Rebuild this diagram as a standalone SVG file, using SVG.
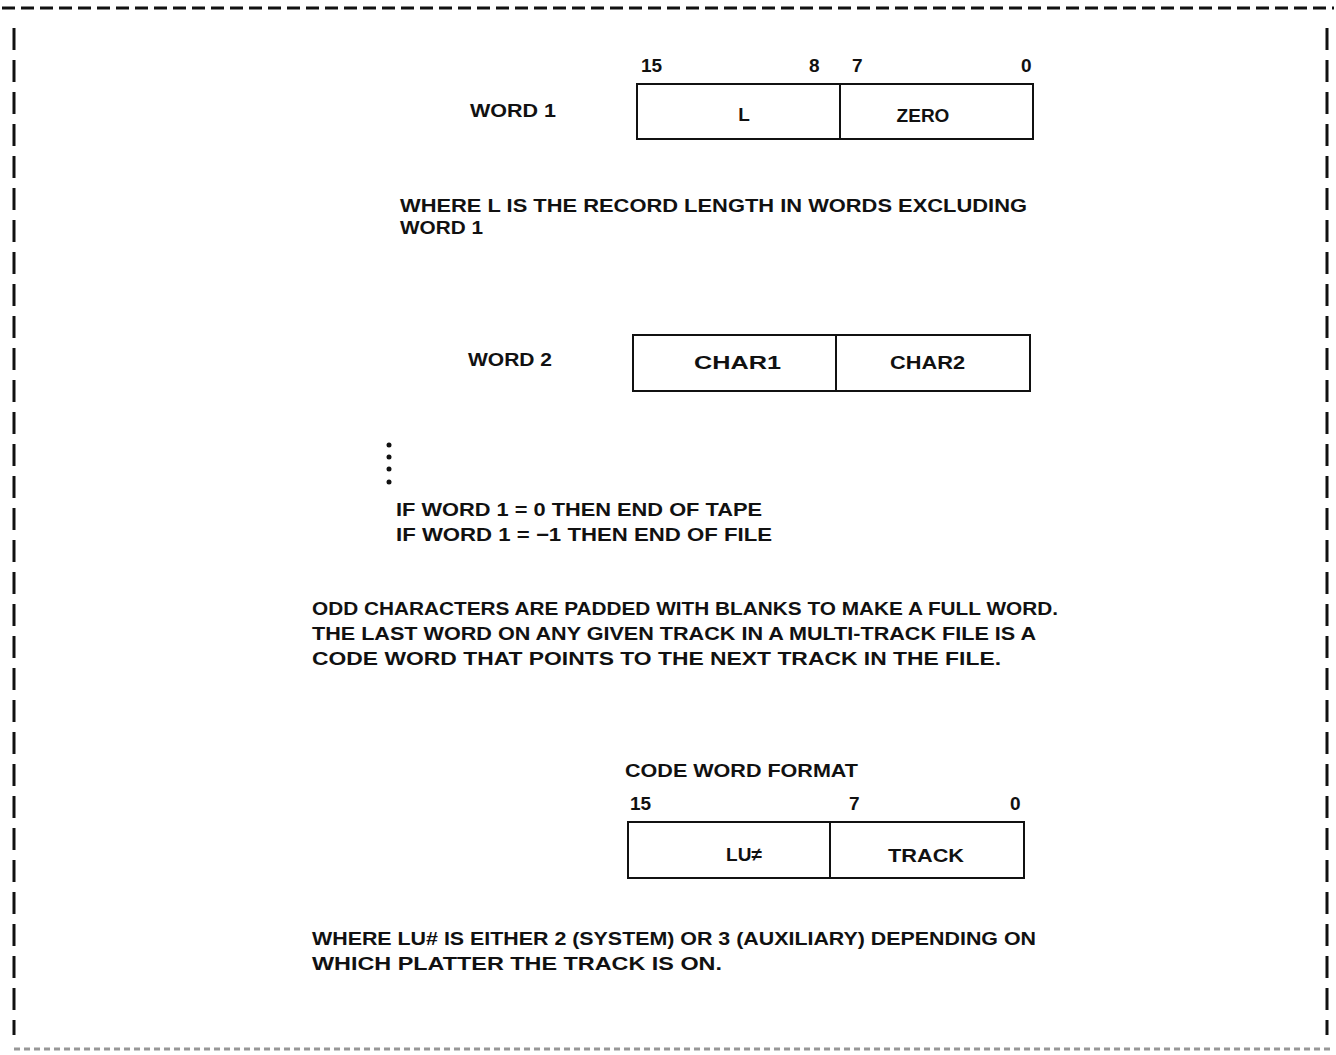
<svg xmlns="http://www.w3.org/2000/svg" width="1336" height="1055" viewBox="0 0 1336 1055">
<style>
.t{font-family:"Liberation Sans",Arial,sans-serif;font-size:19px;font-weight:bold;fill:#111}
.box{fill:none;stroke:#111;stroke-width:2}
.frame{fill:none;stroke:#111;stroke-width:3}
</style>
<rect width="1336" height="1055" fill="#fff"/>
<g id="frame">
<line class="frame" x1="2" y1="8" x2="1334" y2="8" stroke-dasharray="13 6"/>
<line class="frame" x1="14" y1="28" x2="14" y2="1035" stroke-dasharray="22 10"/>
<line class="frame" x1="1327" y1="28" x2="1327" y2="1035" stroke-dasharray="22 10"/>
<line x1="14" y1="1049" x2="1334" y2="1049" stroke="#555" stroke-width="3" stroke-dasharray="6 4" opacity="0.6"/>
</g>
<g id="word1">
<text class="t" x="470" y="117" textLength="86" lengthAdjust="spacingAndGlyphs">WORD 1</text>
<text class="t" x="641" y="72">15</text>
<text class="t" x="809" y="72">8</text>
<text class="t" x="852" y="72">7</text>
<text class="t" x="1021" y="72">0</text>
<rect class="box" x="637" y="84" width="396" height="55"/>
<line class="box" x1="840" y1="84" x2="840" y2="139"/>
<text class="t" x="744" y="121" text-anchor="middle">L</text>
<text class="t" x="923" y="122" text-anchor="middle">ZERO</text>
</g>
<g id="note1">
<text class="t" x="400" y="212" textLength="627" lengthAdjust="spacingAndGlyphs">WHERE L IS THE RECORD LENGTH IN WORDS EXCLUDING</text>
<text class="t" x="400" y="234" textLength="83" lengthAdjust="spacingAndGlyphs">WORD 1</text>
</g>
<g id="word2">
<text class="t" x="468" y="366" textLength="84" lengthAdjust="spacingAndGlyphs">WORD 2</text>
<rect class="box" x="633" y="335" width="397" height="56"/>
<line class="box" x1="836" y1="335" x2="836" y2="391"/>
<text class="t" x="694" y="369" textLength="87" lengthAdjust="spacingAndGlyphs">CHAR1</text>
<text class="t" x="890" y="369" textLength="75" lengthAdjust="spacingAndGlyphs">CHAR2</text>
</g>
<g id="dots" fill="#111">
<circle cx="389" cy="445" r="2.5"/>
<circle cx="389" cy="457" r="2.5"/>
<circle cx="389" cy="469" r="2.5"/>
<circle cx="389" cy="482" r="2.5"/>
</g>
<g id="note2">
<text class="t" x="396" y="516" textLength="366" lengthAdjust="spacingAndGlyphs">IF WORD 1 = 0 THEN END OF TAPE</text>
<text class="t" x="396" y="541" textLength="376" lengthAdjust="spacingAndGlyphs">IF WORD 1 = −1 THEN END OF FILE</text>
</g>
<g id="note3">
<text class="t" x="312" y="615" textLength="746" lengthAdjust="spacingAndGlyphs">ODD CHARACTERS ARE PADDED WITH BLANKS TO MAKE A FULL WORD.</text>
<text class="t" x="312" y="640" textLength="724" lengthAdjust="spacingAndGlyphs">THE LAST WORD ON ANY GIVEN TRACK IN A MULTI-TRACK FILE IS A</text>
<text class="t" x="312" y="665" textLength="689" lengthAdjust="spacingAndGlyphs">CODE WORD THAT POINTS TO THE NEXT TRACK IN THE FILE.</text>
</g>
<g id="codeword">
<text class="t" x="625" y="777" textLength="233" lengthAdjust="spacingAndGlyphs">CODE WORD FORMAT</text>
<text class="t" x="630" y="810">15</text>
<text class="t" x="849" y="810">7</text>
<text class="t" x="1010" y="810">0</text>
<rect class="box" x="628" y="822" width="396" height="56"/>
<line class="box" x1="830" y1="822" x2="830" y2="878"/>
<text class="t" x="744" y="861" text-anchor="middle">LU≠</text>
<text class="t" x="888" y="862" textLength="76" lengthAdjust="spacingAndGlyphs">TRACK</text>
</g>
<g id="note4">
<text class="t" x="312" y="945" textLength="724" lengthAdjust="spacingAndGlyphs">WHERE LU# IS EITHER 2 (SYSTEM) OR 3 (AUXILIARY) DEPENDING ON</text>
<text class="t" x="312" y="970" textLength="410" lengthAdjust="spacingAndGlyphs">WHICH PLATTER THE TRACK IS ON.</text>
</g>
</svg>
